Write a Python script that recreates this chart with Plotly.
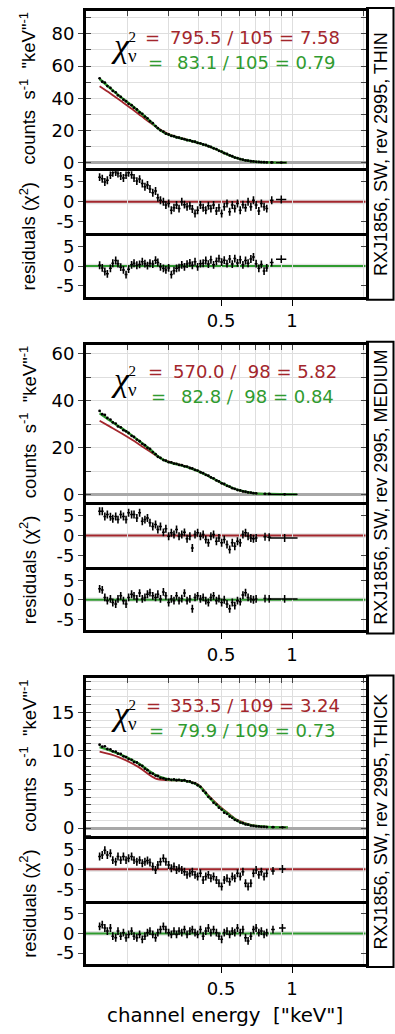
import plotly.graph_objects as go

W, H = 395, 1034
SANS = "Liberation Sans, Arial, sans-serif"
WIDE = "DejaVu Sans, sans-serif"
SERIF = "Liberation Serif, Times New Roman, serif"
RED = "#a3262c"
GREEN = "#2f9b2f"
GRIDC = "#dedede"
TICKC = "#444444"
NBSP = "\u00a0"

# ---------------- data ----------------
# channel energies (keV) of the finely binned part of the spectra
E_BINS = [0.153, 0.157, 0.161, 0.165, 0.170, 0.174, 0.179, 0.183, 0.188, 0.193,
          0.198, 0.203, 0.209, 0.214, 0.220, 0.226, 0.232, 0.238, 0.244, 0.250,
          0.257, 0.264, 0.270, 0.277, 0.285, 0.292, 0.300, 0.308, 0.316, 0.324,
          0.332, 0.341, 0.350, 0.359, 0.369, 0.378, 0.388, 0.398, 0.409, 0.420,
          0.431, 0.442, 0.453, 0.465, 0.478, 0.490, 0.503, 0.516, 0.530, 0.544,
          0.558, 0.572, 0.587, 0.603, 0.619, 0.635, 0.651, 0.669, 0.686, 0.704,
          0.723, 0.741, 0.761, 0.781]

GRID_E = [0.2, 0.3, 0.4, 0.6, 0.7, 0.8, 0.9, 2.0]
LABEL_E = [0.5, 1.0]
LABEL_TXT = ["0.5", "1"]

# ---- THIN ----
THIN_N = 64
THIN_COUNTS = [52.4, 50.3, 49.8, 47.6, 46.5, 44.6, 43.7, 41.9, 40.9, 39.2,
               38.2, 36.6, 35.8, 34.2, 33.1, 31.3, 30.4, 28.7, 27.6, 25.8,
               24.6, 22.8, 21.5, 20.2, 19.3, 18.1, 17.6, 16.7, 16.5, 15.8,
               15.6, 15.0, 14.7, 14.1, 14.0, 13.3, 13.1, 12.4, 12.1, 11.4,
               11.1, 10.3, 9.9, 9.0, 8.5, 7.5, 7.0, 6.0, 5.5, 4.6,
               4.1, 3.3, 3.0, 2.3, 2.0, 1.5, 1.35, 1.0, 0.9, 0.68,
               0.57, 0.44, 0.39, 0.31]
THIN_TAIL_E = [0.82, 0.90]
THIN_TAIL_XERR = [0.015, 0.045]
THIN_TAIL_COUNTS = [0.25, 0.18]
THIN_RES_RED = [6.2, 5.8, 5.0, 5.4, 6.7, 7.3, 7.5, 7.1, 6.5, 6.0,
                6.7, 7.3, 6.8, 6.0, 5.2, 5.7, 4.6, 3.8, 4.2, 3.2,
                2.3, 2.7, 1.0, 0.4, 0.0, -0.8, -0.4, -2.1, -1.5, -0.8,
                -1.7, 0.0, -0.7, -1.25, -1.0, -1.8, -2.9, -2.1, -0.8, -1.5,
                -2.1, -1.0, -1.7, -0.8, -2.3, -1.5, -2.9, -1.25, -0.4, -2.5,
                -0.8, -1.7, -0.4, -2.1, -0.7, -1.5, 0.0, -1.25, 0.4, -0.8,
                -2.3, -0.4, -1.25, -1.7]
THIN_TAIL_RES_RED = [0.4, 0.6]
THIN_RES_GREEN = [0.2, -0.5, -1.4, -2.0, -0.6, 0.7, 1.4, 0.6, -0.3, -1.0,
                  -2.2, -0.8, 0.3, 0.7, 0.2, 0.4, 1.1, 0.6, 0.1, 0.7,
                  0.5, 1.5, 0.9, -0.2, -0.6, -1.0, -0.5, -2.2, -1.2, -0.6,
                  -0.4, 0.3, -0.2, 0.5, 0.8, 0.2, 1.1, -0.2, 0.6, 0.7,
                  1.4, 0.5, 1.6, 0.3, 1.2, 1.9, 1.0, 1.5, 0.6, 1.8,
                  0.5, 1.9, 0.8, 1.6, 0.3, 1.4, 0.7, 1.8, 2.3, 0.6,
                  -0.6, 0.4, -1.3, -0.5]
THIN_TAIL_RES_GREEN = [0.9, 1.75]
THIN_MODEL_E = [0.153, 0.17, 0.19, 0.21, 0.23, 0.25, 0.27, 0.29, 0.31, 0.33, 0.36,
                0.40, 0.44, 0.48, 0.52, 0.56, 0.60, 0.65, 0.70, 0.80, 0.95]
THIN_MODEL_RED = [47.5, 43.0, 38.0, 33.4, 29.0, 25.0, 21.6, 18.9, 17.0, 15.8, 14.3,
                  12.4, 10.4, 8.2, 5.8, 3.9, 2.5, 1.3, 0.72, 0.3, 0.15]
THIN_MODEL_GREEN = [52.0, 46.2, 40.3, 35.4, 30.6, 26.0, 21.4, 18.4, 16.7, 15.6, 14.2,
                    12.4, 10.5, 8.3, 5.9, 3.9, 2.5, 1.3, 0.72, 0.3, 0.15]
THIN_CHI = [795.5, 83.1]
THIN_DOF = 105

# ---- MEDIUM ----
MEDIUM_N = 60
MEDIUM_COUNTS = [35.6, 34.2, 33.9, 32.6, 31.9, 30.7, 30.2, 29.0, 28.6, 27.4,
                 26.9, 26.2, 25.0, 24.5, 23.4, 22.7, 21.6, 21.0, 19.9, 19.4,
                 18.1, 17.2, 16.1, 15.6, 14.7, 14.4, 13.8, 13.7, 13.2, 13.1,
                 12.6, 12.5, 12.0, 11.9, 11.3, 11.1, 10.5, 10.2, 9.5, 9.1,
                 8.4, 8.0, 7.3, 6.9, 6.0, 5.6, 4.8, 4.5, 3.7, 3.4,
                 2.7, 2.45, 1.95, 1.75, 1.35, 1.2, 0.9, 0.8, 0.58, 0.52]
MEDIUM_TAIL_E = [0.768, 0.80, 0.93]
MEDIUM_TAIL_XERR = [0.012, 0.015, 0.125]
MEDIUM_TAIL_COUNTS = [0.32, 0.26, 0.12]
MEDIUM_RES_RED = [6.1, 6.1, 4.8, 5.3, 4.7, 4.2, 4.8, 4.0, 5.3, 4.8,
                  4.0, 5.7, 5.3, 5.3, 4.4, 5.7, 3.6, 4.0, 4.4, 3.2,
                  2.3, 2.75, 1.5, 2.3, 0.8, 1.7, -0.2, 0.7, 0.25, 1.5,
                  -0.2, 0.25, 0.8, -0.8, -0.2, -3.1, 0.25, 0.7, -0.2, 0.25,
                  -1.0, -1.8, -0.2, 0.25, -1.4, -0.6, -1.8, -1.0, -2.25, -3.5,
                  -1.8, -2.7, -1.4, -1.8, 0.25, 0.7, -0.2, -0.6, -0.8, -0.6]
MEDIUM_TAIL_RES_RED = [-0.3, -0.4, -0.6]
MEDIUM_RES_GREEN = [2.8, 2.5, 0.6, -0.25, 0.2, -0.7, -1.1, 0.2, 1.0, -0.25,
                    -1.1, 0.6, 1.4, 1.0, 0.2, 1.7, 0.2, 0.6, 1.4, 1.8,
                    1.0, 0.6, 1.4, 0.2, 2.0, 1.0, -0.7, 0.2, -0.25, 1.0,
                    -0.25, 0.3, 1.7, -0.25, 0.2, -2.3, 0.6, 1.0, 0.2, 0.6,
                    -0.25, -0.7, 0.6, 1.0, -0.25, 0.3, -0.7, 0.0, -1.1, -2.3,
                    -0.7, -1.5, -0.25, -0.5, 1.2, 1.8, 0.6, 0.2, 0.0, 0.2]
MEDIUM_TAIL_RES_GREEN = [0.3, 0.2, 0.2]
MEDIUM_MODEL_E = [0.153, 0.17, 0.19, 0.21, 0.23, 0.25, 0.27, 0.29, 0.31, 0.33, 0.36,
                  0.40, 0.44, 0.48, 0.52, 0.56, 0.60, 0.65, 0.70, 0.80, 1.05]
MEDIUM_MODEL_RED = [31.4, 28.8, 26.0, 23.3, 20.7, 18.3, 16.1, 14.6, 13.6, 12.9, 11.8,
                    10.0, 8.0, 5.9, 4.1, 2.7, 1.7, 0.95, 0.5, 0.2, None]
MEDIUM_MODEL_GREEN = [34.6, 31.4, 28.2, 25.1, 22.1, 19.3, 16.3, 14.4, 13.4, 12.75, 11.7,
                      10.0, 8.0, 6.0, 4.2, 2.8, 1.75, 1.0, 0.52, 0.22, 0.08]
MEDIUM_CHI = [570.0, 82.8]
MEDIUM_DOF = 98

# ---- THICK ----
THICK_N = 64
THICK_COUNTS = [10.8, 10.55, 10.6, 10.25, 10.2, 9.95, 9.9, 9.65, 9.6, 9.3,
                9.2, 8.95, 8.85, 8.55, 8.5, 8.2, 8.05, 7.7, 7.5, 7.15,
                7.05, 6.8, 6.75, 6.5, 6.45, 6.3, 6.35, 6.25, 6.3, 6.2,
                6.25, 6.15, 6.2, 6.05, 6.05, 5.85, 5.8, 5.55, 5.35, 4.85,
                4.55, 4.05, 3.8, 3.3, 3.05, 2.65, 2.4, 2.0, 1.85, 1.5,
                1.33, 1.07, 0.95, 0.72, 0.64, 0.48, 0.44, 0.33, 0.3, 0.23,
                0.22, 0.17, 0.17, 0.13]
THICK_TAIL_E = [0.83, 0.91]
THICK_TAIL_XERR = [0.015, 0.03]
THICK_TAIL_COUNTS = [0.12, 0.10]
THICK_RES_RED = [3.2, 3.6, 4.8, 3.6, 4.0, 2.3, 1.9, 3.2, 2.3, 3.2,
                 2.3, 2.75, 3.2, 2.3, 1.9, 2.3, 1.5, 1.9, 2.2, 1.7,
                 0.7, -0.2, 1.1, 1.9, 2.75, 1.9, 1.1, 0.25, 0.7, -0.2,
                 0.25, -0.2, -0.6, -1.4, -1.0, -0.6, -1.4, -1.8, -1.0, -2.7,
                 -1.8, -1.4, -2.25, -1.8, -2.7, -3.5, -4.3, -2.7, -2.25, -3.1,
                 -1.8, -2.25, -1.0, -1.8, -0.6, -3.5, -4.3, -3.5, -1.0, -0.2,
                 -1.4, -0.6, -1.8, -1.0]
THICK_TAIL_RES_RED = [-0.4, 0.1]
THICK_RES_GREEN = [1.8, 2.25, 1.4, 0.6, 1.4, -0.7, -1.1, 0.6, -0.7, 0.2,
                   -1.1, -0.25, 0.6, -0.7, -1.1, -0.25, -1.5, -0.7, 0.2, 0.6,
                   -0.25, -1.1, 0.2, 1.0, 1.8, 1.0, 0.2, -0.25, 0.6, -0.25,
                   0.6, 0.2, 1.0, -0.25, 0.6, 1.0, 0.2, -0.25, 1.0, -0.7,
                   0.6, 1.4, 0.2, 1.0, 0.2, -0.7, -1.5, 0.2, 0.6, -0.25,
                   0.6, 0.2, 1.4, 0.2, 1.0, -1.1, -1.9, -0.7, 1.0, 1.4,
                   0.2, 0.6, -0.25, 0.2]
THICK_TAIL_RES_GREEN = [1.0, 1.4]
THICK_MODEL_E = [0.153, 0.184, 0.224, 0.263, 0.30, 0.35, 0.40, 0.44, 0.49, 0.54,
                 0.59, 0.675, 0.79, 0.96]
THICK_MODEL_RED = [9.9, 9.2, 7.9, 6.45, 6.2, 6.15, 5.65, 4.3, 2.9, 1.85,
                   1.0, 0.4, 0.17, 0.1]
THICK_MODEL_GREEN = [10.5, 9.65, 8.35, 6.9, 6.3, 6.15, 5.55, 4.15, 2.75, 1.75,
                     0.9, 0.35, 0.15, 0.1]
THICK_CHI = [353.5, 79.9]
THICK_DOF = 109

PANELS = [
    dict(label="RXJ1856, SW, rev 2995, THIN", n=THIN_N, counts=THIN_COUNTS,
         tail_e=THIN_TAIL_E, tail_xerr=THIN_TAIL_XERR, tail_counts=THIN_TAIL_COUNTS,
         rr=THIN_RES_RED, trr=THIN_TAIL_RES_RED, rg=THIN_RES_GREEN, trg=THIN_TAIL_RES_GREEN,
         me=THIN_MODEL_E, mr=THIN_MODEL_RED, mg=THIN_MODEL_GREEN,
         chi=THIN_CHI, dof=THIN_DOF, yr=[-3.4, 94.2], dt=20, mdt=10,
         eqr=(152, 342), eqg=(155, 338)),
    dict(label="RXJ1856, SW, rev 2995, MEDIUM", n=MEDIUM_N, counts=MEDIUM_COUNTS,
         tail_e=MEDIUM_TAIL_E, tail_xerr=MEDIUM_TAIL_XERR, tail_counts=MEDIUM_TAIL_COUNTS,
         rr=MEDIUM_RES_RED, trr=MEDIUM_TAIL_RES_RED, rg=MEDIUM_RES_GREEN, trg=MEDIUM_TAIL_RES_GREEN,
         me=MEDIUM_MODEL_E, mr=MEDIUM_MODEL_RED, mg=MEDIUM_MODEL_GREEN,
         chi=MEDIUM_CHI, dof=MEDIUM_DOF, yr=[-3.2, 63.8], dt=20, mdt=10,
         eqr=(155, 339), eqg=(158, 336)),
    dict(label="RXJ1856, SW, rev 2995, THICK", n=THICK_N, counts=THICK_COUNTS,
         tail_e=THICK_TAIL_E, tail_xerr=THICK_TAIL_XERR, tail_counts=THICK_TAIL_COUNTS,
         rr=THICK_RES_RED, trr=THICK_TAIL_RES_RED, rg=THICK_RES_GREEN, trg=THICK_TAIL_RES_GREEN,
         me=THICK_MODEL_E, mr=THICK_MODEL_RED, mg=THICK_MODEL_GREEN,
         chi=THICK_CHI, dof=THICK_DOF, yr=[-1.0, 19.4], dt=5, mdt=1,
         eqr=(153, 342), eqg=(156, 338)),
]

RES_RANGE = [-7.85, 7.65]
XRANGE = [-0.873, 0.311]
XDOM = [86 / W, 365.5 / W]


def px(x):
    return x / W


def py(y):
    return 1 - y / H


def ref(prefix, i):
    return prefix if i == 1 else f"{prefix}{i}"


def lay(prefix, i):
    return prefix + "axis" + ("" if i == 1 else str(i))


def note(text, x, y, size, color="black", family=SANS, angle=0, xanchor="center", style="normal"):
    return dict(text=text, x=px(x), y=py(y), xref="paper", yref="paper", showarrow=False,
                textangle=angle, xanchor=xanchor, yanchor="middle",
                font=dict(size=size, color=color, family=family, style=style))


fig = go.Figure()
layout = dict(width=W, height=H, margin=dict(l=0, r=0, t=0, b=0),
              paper_bgcolor="white", plot_bgcolor="white", showlegend=False,
              font=dict(family=SANS, size=18, color="black"))
shapes = []
annotations = []
TICKFONT = dict(size=18, family=WIDE)

for g, P in enumerate(PANELS):
    T = 9 + 336 * g
    doms = [[py(T + 158.5), py(T)], [py(T + 223.7), py(T + 161.5)], [py(T + 287.7), py(T + 226.7)]]
    im, i1, i2 = 3 * g + 1, 3 * g + 2, 3 * g + 3
    n = P["n"]
    e_dense = E_BINS[:n]

    # ---------- main panel ----------
    fig.add_trace(go.Scatter(x=P["me"], y=P["mr"], mode="lines", line=dict(color=RED, width=1.8, shape="spline"),
                             xaxis=ref("x", im), yaxis=ref("y", im), hoverinfo="skip"))
    fig.add_trace(go.Scatter(x=P["me"], y=P["mg"], mode="lines", line=dict(color=GREEN, width=2.4, shape="spline"),
                             xaxis=ref("x", im), yaxis=ref("y", im), hoverinfo="skip"))
    fig.add_trace(go.Scatter(x=e_dense, y=P["counts"], mode="markers",
                             marker=dict(color="black", size=2.8),
                             xaxis=ref("x", im), yaxis=ref("y", im), hoverinfo="skip"))
    fig.add_trace(go.Scatter(x=P["tail_e"], y=P["tail_counts"], mode="markers",
                             marker=dict(color="black", size=2.8),
                             error_x=dict(type="data", array=P["tail_xerr"], width=0, thickness=1.3, color="black"),
                             xaxis=ref("x", im), yaxis=ref("y", im), hoverinfo="skip"))

    # ---------- residual panels ----------
    for idx, rv, tv, col in [(i1, P["rr"], P["trr"], RED), (i2, P["rg"], P["trg"], GREEN)]:
        fig.add_trace(go.Scatter(x=e_dense, y=rv, mode="markers", marker=dict(color="black", size=1),
                                 error_y=dict(type="constant", value=1, width=0, thickness=1.6, color="black"),
                                 error_x=dict(type="percent", value=1.4, width=0, thickness=1.5, color="black"),
                                 xaxis=ref("x", idx), yaxis=ref("y", idx), hoverinfo="skip"))
        fig.add_trace(go.Scatter(x=P["tail_e"], y=tv, mode="markers", marker=dict(color="black", size=1),
                                 error_y=dict(type="constant", value=1, width=0, thickness=1.5, color="black"),
                                 error_x=dict(type="data", array=P["tail_xerr"], width=0, thickness=1.5, color="black"),
                                 xaxis=ref("x", idx), yaxis=ref("y", idx), hoverinfo="skip"))
        shapes.append(dict(type="rect", xref=ref("x", idx) + " domain", x0=0, x1=1, yref=ref("y", idx),
                           y0=-0.6, y1=0.6, fillcolor="#e2e2e2", line=dict(width=0), layer="below"))
        shapes.append(dict(type="line", xref=ref("x", idx) + " domain", x0=0, x1=1, yref=ref("y", idx),
                           y0=0, y1=0, line=dict(color=col, width=2), layer="below"))

    # dummy traces carrying the right-hand (inward) tick axes
    for idx in (im, i1, i2):
        fig.add_trace(go.Scatter(x=[None], y=[None], mode="markers", xaxis=ref("x", idx),
                                 yaxis=ref("y", idx + 9), hoverinfo="skip", showlegend=False))

    # ---------- axes ----------
    common_x = dict(type="log", range=XRANGE, domain=XDOM, showline=True, linewidth=3, linecolor="black",
                    showgrid=True, gridcolor=GRIDC, gridwidth=1, zeroline=False)
    layout[lay("x", im)] = dict(common_x, anchor=ref("y", im), side="top", mirror=True,
                                tickmode="array", tickvals=GRID_E + LABEL_E, showticklabels=False,
                                ticks="inside", ticklen=5, tickcolor=TICKC)
    for idx, lab in [(i1, False), (i2, True)]:
        layout[lay("x", idx)] = dict(common_x, anchor=ref("y", idx), side="bottom", mirror=False,
                                     tickmode="array", tickvals=LABEL_E, ticktext=LABEL_TXT,
                                     showticklabels=lab, ticks="outside" if lab else "", ticklen=6,
                                     tickcolor="black", tickfont=TICKFONT,
                                     minor=dict(tickmode="array", tickvals=GRID_E, showgrid=True,
                                                gridcolor=GRIDC, gridwidth=1))
    layout[lay("y", im)] = dict(domain=doms[0], anchor=ref("x", im), range=P["yr"], showline=True,
                                linewidth=3, linecolor="black", mirror=True, ticks="outside", ticklen=5,
                                tick0=0, dtick=P["dt"], tickfont=TICKFONT, showgrid=True,
                                gridcolor=GRIDC, gridwidth=1, zeroline=True, zerolinecolor="#a8a8a8",
                                zerolinewidth=2.5,
                                minor=dict(tick0=0, dtick=P["mdt"], showgrid=True, gridcolor=GRIDC,
                                           ticks="inside", ticklen=5, tickcolor=TICKC))
    layout[lay("y", im + 9)] = dict(overlaying=ref("y", im), anchor=ref("x", im), side="right",
                                    range=P["yr"], tick0=0, dtick=P["mdt"], ticks="inside", ticklen=5,
                                    tickcolor=TICKC, showticklabels=False, showgrid=False,
                                    zeroline=False, showline=False)
    for k, idx in enumerate((i1, i2)):
        layout[lay("y", idx)] = dict(domain=doms[k + 1], anchor=ref("x", idx), range=RES_RANGE,
                                     showline=True, linewidth=3, linecolor="black", mirror=True,
                                     ticks="outside", ticklen=5, tickmode="array", tickvals=[-5, 0, 5],
                                     ticktext=["-5", "0", "5"], tickfont=TICKFONT,
                                     showgrid=False, zeroline=False)
        layout[lay("y", idx + 9)] = dict(overlaying=ref("y", idx), anchor=ref("x", idx), side="right",
                                         range=RES_RANGE, tickmode="array", tickvals=[-5, 5],
                                         ticks="inside", ticklen=5, tickcolor=TICKC,
                                         showticklabels=False, showgrid=False, zeroline=False,
                                         showline=False)

    # ---------- label strip ----------
    shapes.append(dict(type="rect", xref="paper", yref="paper", x0=px(367), x1=px(393.5),
                       y0=py(T + 290.7), y1=py(T - 3), line=dict(color="black", width=2),
                       fillcolor="rgba(0,0,0,0)"))
    annotations.append(note(P["label"], 381, T + 144, 18, angle=-90))

    # ---------- axis titles ----------
    annotations.append(note("counts" + NBSP * 2 + "s<sup>-1</sup>" + NBSP * 2 + "\"keV\"<sup>-1</sup>",
                            28, T + 78, 18.5, angle=-90))
    annotations.append(note("residuals (χ<sup>2</sup>)", 28, T + 227, 18.5, angle=-90))

    # ---------- chi^2 labels ----------
    annotations.append(note("χ", 120, T + 35, 34, family=SERIF, style="italic"))
    annotations.append(note("2<br><span style='font-size:19px'>ν</span>", 132.5, T + 37, 15, family=SERIF))
    dof_txt = f"{P['dof']:>3d}".replace(" ", NBSP)
    for (chi, col, (xe, xr), dy) in [(P["chi"][0], RED, P["eqr"], 27), (P["chi"][1], GREEN, P["eqg"], 52)]:
        annotations.append(note("=", xe, T + dy, 18, color=col, family=WIDE))
        annotations.append(note(f"{chi:.1f} / {dof_txt} = {chi / P['dof']:.2f}", xr, T + dy, 18,
                                color=col, family=WIDE, xanchor="right"))

annotations.append(note("channel energy" + NBSP * 2 + "[\"keV\"]", 224.5, 1020, 19.8, family=WIDE))

layout["shapes"] = shapes
layout["annotations"] = annotations
fig.update_layout(**layout)
fig.write_html("out.html", config={"displayModeBar": False})
